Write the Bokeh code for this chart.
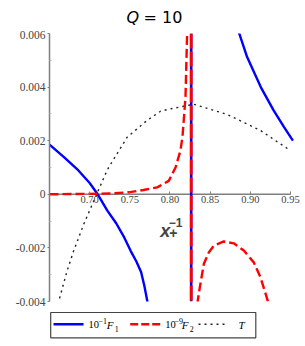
from bokeh.plotting import figure
from bokeh.models import Range1d, FixedTicker, Span, Label
from bokeh.layouts import column
from bokeh.embed import file_html
from bokeh.resources import INLINE
from bokeh.core.properties import value

# ---- data ----
x_axis_lim = [0.65, 0.95]
x_view = [0.65, 0.9637]
y_range_lim = [-0.004, 0.006]
x_ticks = [0.70, 0.75, 0.80, 0.85, 0.90, 0.95]
x_tick_labels = ["0.70", "0.75", "0.80", "0.85", "0.90", "0.95"]
y_ticks = [-0.004, -0.002, 0, 0.002, 0.004, 0.006]
y_tick_labels = ["-0.004", "-0.002", "0", "0.002", "0.004", "0.006"]
y_minor_ticks = [-0.003, -0.001, 0.001, 0.003, 0.005]

pole_x = 0.8264

f1_left_x = [0.650, 0.668, 0.686, 0.700, 0.710, 0.722, 0.733, 0.743, 0.751, 0.758, 0.764, 0.768, 0.7725]
f1_left_y = [0.00185, 0.00139, 0.00089, 0.00042, 0.0, -0.00061, -0.00108, -0.00161, -0.00211, -0.00250, -0.00290, -0.00340, -0.0041]
f1_right_x = [0.884, 0.896, 0.913, 0.929, 0.942, 0.953]
f1_right_y = [0.0062, 0.00512, 0.0040, 0.00313, 0.00251, 0.0020]

f2_left_x = [0.65, 0.68, 0.71, 0.73, 0.75, 0.767, 0.784, 0.7985, 0.807, 0.813, 0.8155, 0.8193, 0.8214]
f2_left_y = [0.0, 0.00001, 0.00002, 0.00004, 0.00008, 0.00016, 0.00026, 0.0005, 0.00101, 0.00163, 0.00213, 0.00363, 0.0061]
f2_right_x = [0.8339, 0.8371, 0.8421, 0.8483, 0.8545, 0.867, 0.8794, 0.8919, 0.9043, 0.9127, 0.923]
f2_right_y = [-0.0041, -0.00348, -0.0026, -0.00217, -0.00192, -0.00176, -0.00183, -0.0021, -0.00254, -0.0031, -0.0041]

t_x = [0.6612, 0.6628, 0.672, 0.6802, 0.6927, 0.7052, 0.7197, 0.7238, 0.7467, 0.7716, 0.7882, 0.7978, 0.8296, 0.8712, 0.9127, 0.95]
t_y = [-0.0041, -0.00385, -0.00285, -0.0021, -0.00111, -0.00024, 0.00076, 0.00101, 0.00213, 0.00276, 0.0031, 0.00317, 0.00336, 0.00298, 0.00238, 0.00163]

BLUE = "#0000ff"
RED = "#ff0000"
AXIS = "#7f7f7f"
SERIF = "Liberation Serif"
W = 305
BL, BR = 49, 4          # left / right borders shared by all strips (frames align in a column)
FR = W - BR


def strip(h):
    f = figure(width=W, height=h, x_range=Range1d(BL, FR), y_range=Range1d(0, h),
               output_backend="svg", toolbar_location=None,
               x_axis_location=None, y_axis_location=None,
               min_border_left=BL, min_border_right=BR, min_border_top=0, min_border_bottom=0)
    f.outline_line_color = None
    f.grid.visible = False
    return f


# ---- title strip ----
tf = strip(30)
tf.text([126], [13], text=["Q"], text_font=value("DejaVu Sans"), text_font_style="italic",
        text_font_size="16px", text_baseline="alphabetic", text_align="left", text_color="black")
tf.text([143], [13], text=["= 10"], text_font=value("DejaVu Sans"),
        text_font_size="16px", text_baseline="alphabetic", text_align="left", text_color="black")

# ---- main plot ----
p = figure(width=W, height=278,
           x_range=Range1d(*x_view), y_range=Range1d(*y_range_lim),
           output_backend="svg", toolbar_location=None,
           min_border_left=BL, min_border_right=BR, min_border_top=3, min_border_bottom=7)
p.outline_line_color = None
p.grid.visible = False
p.background_fill_color = "white"
p.border_fill_color = "white"

p.line(x_axis_lim, [0, 0], line_color=AXIS, line_width=1.5, level="underlay")

xa = p.xaxis[0]
xa.fixed_location = 0
xa.ticker = FixedTicker(ticks=x_ticks, minor_ticks=[])
xa.major_label_overrides = {t: l for t, l in zip(x_ticks, x_tick_labels)}
xa.axis_line_color = None
xa.major_tick_line_color = AXIS
xa.major_tick_in = 3
xa.major_tick_out = 0
xa.minor_tick_line_color = None
xa.major_label_text_font = SERIF
xa.major_label_text_font_size = "10.5px"
xa.major_label_standoff = 2

ya = p.yaxis[0]
ya.ticker = FixedTicker(ticks=y_ticks, minor_ticks=y_minor_ticks)
ya.major_label_overrides = {t: l for t, l in zip(y_ticks, y_tick_labels)}
ya.axis_line_color = AXIS
ya.axis_line_width = 1.5
ya.major_tick_line_color = AXIS
ya.major_tick_in = 0
ya.major_tick_out = 2
ya.minor_tick_line_color = "#bbbbbb"
ya.minor_tick_in = 2
ya.minor_tick_out = 0
ya.major_label_text_font = SERIF
ya.major_label_text_font_size = "11.5px"
ya.major_label_standoff = 2

p.line(t_x, t_y, line_color="#222222", line_width=1.4, line_dash="2 4")
p.line(f1_left_x, f1_left_y, line_color=BLUE, line_width=2.4)
p.line(f1_right_x, f1_right_y, line_color=BLUE, line_width=2.4)
p.line(f2_left_x, f2_left_y, line_color=RED, line_width=2.4, line_dash="9 4")
p.line(f2_right_x, f2_right_y, line_color=RED, line_width=2.4, line_dash="9 4")
p.add_layout(Span(location=pole_x, dimension="height", line_color=BLUE, line_width=2.6))
p.add_layout(Span(location=pole_x, dimension="height", line_color=RED, line_width=2.8, line_dash="15 3"))

# pole label x_+^{-1}
p.add_layout(Label(x=pole_x, y=0, x_offset=-31, y_offset=-37, text="x",
                   text_font="Liberation Sans", text_font_style="bold italic",
                   text_font_size="18px", text_baseline="alphabetic", text_align="left"))
p.add_layout(Label(x=pole_x, y=0, x_offset=-22.5, y_offset=-28, text="\u22121",
                   text_font="Liberation Sans", text_font_style="bold",
                   text_font_size="12px", text_baseline="alphabetic", text_align="left"))
p.add_layout(Label(x=pole_x, y=0, x_offset=-22, y_offset=-39, text="+",
                   text_font="Liberation Sans", text_font_style="bold",
                   text_font_size="14px", text_baseline="alphabetic", text_align="left"))

# ---- legend strip ----
leg = strip(38)
leg.quad(left=[50.2], right=[255.3], bottom=[8.7], top=[34], fill_color=None,
         line_color="#444444", line_width=1.2)
leg.line([53, 83], [22.3, 22.3], line_color=BLUE, line_width=2.4)
leg.line([129.7, 160], [22.3, 22.3], line_color=RED, line_width=2.4, line_dash="8 3")
leg.line([198, 225], [22.3, 22.3], line_color="#222222", line_width=1.4, line_dash="2 4")


def t(x, y, s, size, style="normal"):
    leg.text([x], [y], text=[s], text_font=value(SERIF), text_font_size=size,
             text_font_style=style, text_baseline="alphabetic", text_align="left",
             text_color="black")


t(88, 22, "10", "10.5px")
t(98, 26, "\u22121", "8px")
t(106.3, 22, "F", "11px", "italic")
t(114.2, 18, "1", "8px")
t(164.7, 22, "10", "10.5px")
t(174, 26, "\u22129", "8px")
t(181.3, 22, "F", "11px", "italic")
t(189.2, 18, "2", "8px")
t(238, 22, "T", "11px", "italic")

layout = column(tf, p, leg, spacing=0)
open("out.html", "w").write(file_html(layout, INLINE))
